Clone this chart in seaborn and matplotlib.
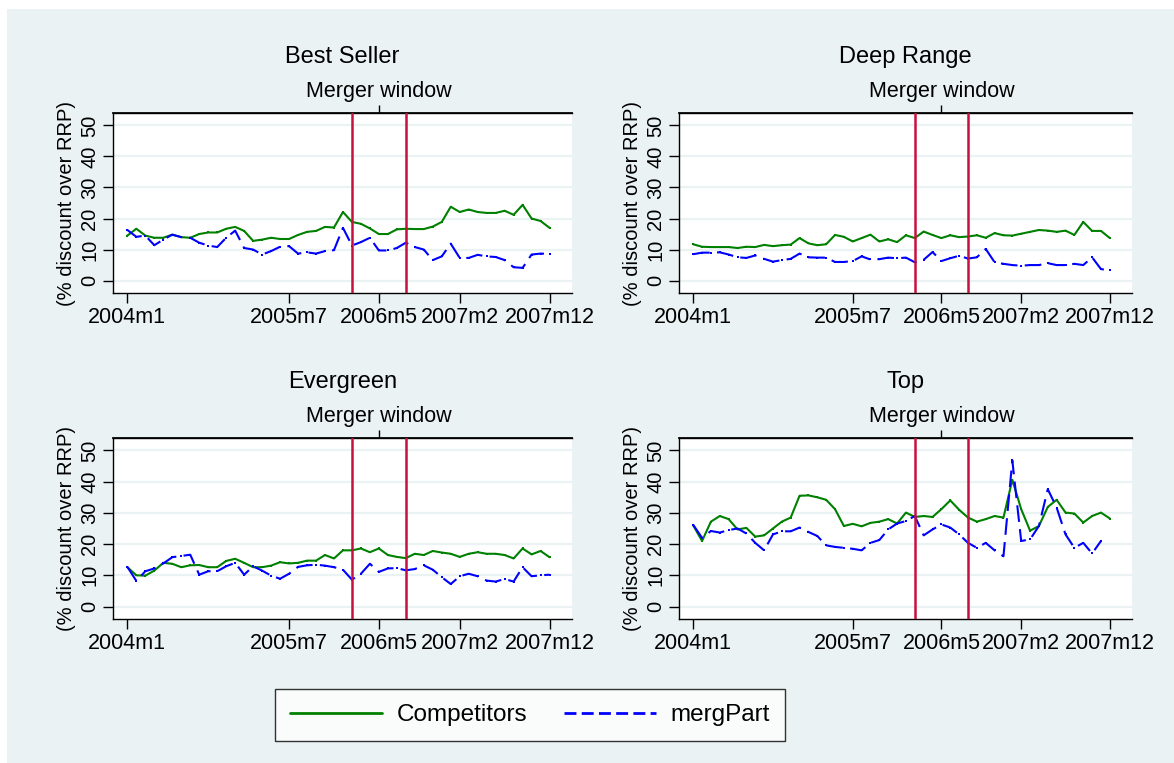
import numpy as np
import pandas as pd
import matplotlib
matplotlib.use("Agg")
import matplotlib.pyplot as plt
import seaborn as sns

# ---- data (monthly, 2004m1 .. 2007m12) ----
month_idx = list(range(48))
tick_pos = [0, 18, 28, 37, 47]
tick_labels = ["2004m1", "2005m7", "2006m5", "2007m2", "2007m12"]
merger_lines = [25, 31]
merger_tick = 28

panels = ["Best Seller", "Deep Range", "Evergreen", "Top"]

best_comp = [14.5, 16.7, 14.5, 13.8, 13.8, 14.8, 14.0, 13.8, 15.0, 15.5, 15.5, 16.7,
             17.3, 16.0, 12.8, 13.2, 13.8, 13.4, 13.4, 14.7, 15.7, 16.0, 17.3, 17.1,
             22.1, 18.9, 18.3, 16.8, 15.0, 15.0, 16.5, 16.7, 16.6, 16.6, 17.4, 18.9,
             23.8, 22.1, 22.9, 22.1, 21.8, 21.8, 22.5, 21.2, 24.4, 20.0, 19.2, 17.0]
best_merg = [16.3, 14.1, 14.5, 11.4, 13.2, 14.8, 14.0, 13.8, 12.2, 11.3, 10.8, 13.8,
             16.1, 10.5, 10.0, 8.4, 9.5, 10.9, 11.1, 8.7, 9.1, 8.7, 9.5, 9.8,
             17.0, 11.3, 12.4, 13.8, 9.7, 9.7, 10.5, 12.2, 10.8, 10.0, 6.6, 7.8,
             11.9, 7.3, 7.3, 8.3, 7.8, 7.6, 6.6, 4.3, 4.1, 8.4, 8.7, 8.6]

deep_comp = [11.7, 10.9, 10.8, 10.8, 10.8, 10.5, 10.9, 10.8, 11.5, 11.1, 11.4, 11.6,
             13.7, 12.0, 11.4, 11.7, 14.7, 14.1, 12.6, 13.7, 14.8, 12.6, 13.3, 12.4,
             14.6, 13.7, 15.8, 14.7, 13.7, 14.6, 14.0, 14.2, 14.6, 13.8, 15.3, 14.6,
             14.5, 15.1, 15.7, 16.3, 16.1, 15.7, 16.1, 14.7, 18.9, 16.0, 16.0, 13.7]
deep_merg = [8.5, 9.0, 9.0, 9.1, 8.4, 7.5, 7.3, 8.1, 7.0, 6.1, 6.6, 7.0,
             8.7, 7.5, 7.4, 7.4, 6.0, 6.0, 6.3, 7.8, 6.8, 6.9, 7.4, 7.2,
             7.4, 5.9, 6.7, 9.2, 6.3, 7.2, 8.0, 7.1, 7.5, 10.2, 5.9, 5.4,
             5.0, 4.8, 5.0, 5.0, 5.6, 5.0, 5.0, 5.4, 5.0, 7.5, 3.7, 3.3]

ever_comp = [12.6, 10.0, 9.9, 11.5, 14.0, 13.7, 12.6, 13.2, 13.3, 12.6, 12.6, 14.6,
             15.3, 14.0, 12.6, 12.6, 13.1, 14.2, 13.8, 14.0, 14.7, 14.7, 16.5, 15.4,
             18.0, 18.0, 18.6, 17.4, 18.6, 16.5, 15.9, 15.5, 16.9, 16.5, 17.8, 17.3,
             16.9, 15.9, 16.9, 17.4, 16.9, 16.9, 16.5, 15.4, 18.6, 16.7, 17.8, 15.8]
ever_merg = [12.7, 8.2, 11.3, 12.2, 13.8, 15.8, 16.2, 16.6, 10.2, 11.3, 11.3, 12.9,
             14.0, 10.2, 12.9, 11.5, 9.9, 8.9, 10.5, 12.7, 13.2, 13.4, 13.1, 12.6,
             11.8, 8.6, 10.5, 13.7, 11.1, 12.2, 12.3, 11.6, 12.0, 13.2, 11.8, 9.4,
             7.2, 9.7, 10.5, 9.7, 8.3, 8.0, 8.8, 8.0, 12.6, 9.7, 10.0, 10.2]

top_comp = [26.0, 21.0, 27.2, 29.0, 28.0, 24.7, 25.2, 22.4, 22.8, 25.0, 27.2, 28.5,
            35.5, 35.6, 35.0, 34.2, 31.2, 25.8, 26.5, 25.7, 26.8, 27.2, 28.0, 26.6,
            30.1, 28.7, 29.0, 28.7, 31.2, 34.0, 31.0, 28.5, 27.2, 28.0, 29.0, 28.5,
            40.6, 31.2, 24.3, 25.8, 31.9, 34.2, 30.1, 29.8, 26.9, 29.0, 30.1, 28.2]
top_merg = [26.2, 22.0, 24.2, 23.7, 24.5, 25.0, 23.4, 20.4, 18.0, 23.1, 24.1, 24.1,
            25.3, 23.9, 22.6, 19.6, 19.1, 18.8, 18.5, 18.0, 20.4, 21.3, 24.7, 26.6,
            27.4, 29.0, 22.8, 24.7, 26.3, 25.3, 23.1, 20.4, 18.8, 20.4, 18.0, 16.1,
            46.8, 21.0, 21.5, 25.8, 37.6, 31.7, 23.1, 18.8, 20.4, 17.0, 21.0, np.nan]

series = {
    "Best Seller": (best_comp, best_merg),
    "Deep Range": (deep_comp, deep_merg),
    "Evergreen": (ever_comp, ever_merg),
    "Top": (top_comp, top_merg),
}

rows = []
for p in panels:
    c, m = series[p]
    for i in month_idx:
        rows.append((p, i, c[i], "Competitors"))
        rows.append((p, i, m[i], "mergPart"))
df = pd.DataFrame(rows, columns=["panel", "month", "value", "group"])

# ---- style ----
sns.set_theme(style="white")
plt.rcParams["font.family"] = ["Liberation Sans", "DejaVu Sans"]
for k in ["text.color", "axes.labelcolor", "xtick.color", "ytick.color"]:
    plt.rcParams[k] = "black"
BG = "#EAF2F3"
GREEN = "#008000"
BLUE = "#0000FF"
RED = "#C8103E"

fig = plt.figure(figsize=(11.74, 7.63), dpi=100)
fig.patch.set_facecolor("white")
bg = matplotlib.patches.Rectangle((7 / 1174, 0), 1, 1 - 9 / 763, transform=fig.transFigure,
                                  facecolor=BG, edgecolor="none", zorder=-10)
fig.patches.append(bg)

W, H = 1174, 763
boxes = {
    "Best Seller": (113, 572, 113, 293),
    "Deep Range": (679, 1132, 113, 293),
    "Evergreen": (113, 572, 438, 619),
    "Top": (679, 1132, 438, 619),
}

palette = {"Competitors": GREEN, "mergPart": BLUE}
dashes = {"Competitors": "", "mergPart": (8, 3.5)}

for p in panels:
    x0, x1, y0, y1 = boxes[p]
    ax = fig.add_axes([x0 / W, 1 - y1 / H, (x1 - x0) / W, (y1 - y0) / H])
    ax.set_facecolor("white")
    sub = df[df["panel"] == p]
    sns.lineplot(data=sub, x="month", y="value", hue="group", style="group",
                 palette=palette, dashes=dashes, markers={"Competitors": "s", "mergPart": "s"},
                 markersize=1.6, markeredgewidth=0, linewidth=1.5, ax=ax, legend=False,
                 estimator=None)
    for xv in merger_lines:
        ax.axvline(xv, color=RED, linewidth=1.8, zorder=5)
    ax.set_xlim(-1.6, 49.5)
    ax.set_ylim(-4, 54)
    ax.set_yticks([0, 10, 20, 30, 40, 50])
    ax.set_yticklabels(["0", "10", "20", "30", "40", "50"], rotation=90, va="center", fontsize=14.5)
    ax.set_xticks(tick_pos)
    ax.set_xticklabels(tick_labels, fontsize=15.5)
    ax.yaxis.grid(True, color=BG, linewidth=1.6)
    ax.xaxis.grid(False)
    ax.set_axisbelow(True)
    ax.tick_params(axis="both", direction="out", length=7, width=1, color="black",
                   bottom=True, left=True, pad=3)
    ax.tick_params(axis="x", pad=3)
    for s in ["left", "bottom", "top"]:
        ax.spines[s].set_visible(True)
        ax.spines[s].set_color("black")
        ax.spines[s].set_linewidth(1.0)
    ax.spines["right"].set_visible(False)
    ax.set_xlabel("")
    ax.set_ylabel("(% discount over RRP)", fontsize=14.5, labelpad=3)
    sec = ax.secondary_xaxis("top")
    sec.set_xticks([merger_tick])
    sec.set_xticklabels(["Merger window"], fontsize=15.5)
    sec.tick_params(direction="out", length=6, width=1, color="black", pad=2)
    sec.spines["top"].set_color("black")
    ax.set_title(p, fontsize=17, pad=36)

from matplotlib.lines import Line2D
handles = [Line2D([], [], color=GREEN, linewidth=2),
           Line2D([], [], color=BLUE, linewidth=2, dashes=(4.3, 1.9))]
leg = fig.legend(handles, ["Competitors", "mergPart"], loc="center",
                 bbox_to_anchor=(530 / W, 1 - 715 / H), ncol=2, fontsize=17.5,
                 frameon=True, fancybox=False, edgecolor="black", facecolor="white",
                 handlelength=3.8, columnspacing=1.5, borderpad=0.6, handletextpad=0.6)
leg.get_frame().set_linewidth(1.0)

fig.savefig("out.png", dpi=100)
